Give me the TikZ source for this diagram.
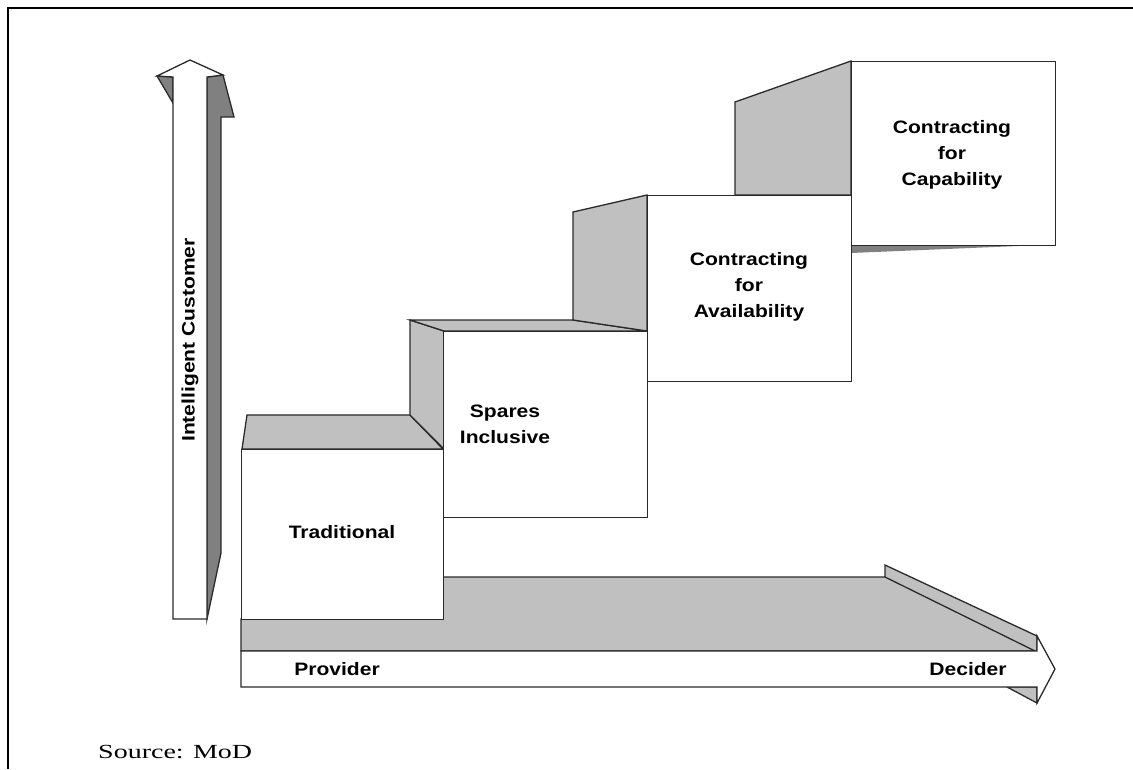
\documentclass[tikz,border=0pt]{standalone}
\usepackage{fontspec}
\setmainfont{Liberation Serif}
\newfontfamily\lblfont{Liberation Sans}[FakeStretch=1.17]
\newfontfamily\srcfont{Liberation Serif}[FakeStretch=1.4]
\definecolor{facegray}{HTML}{C0C0C0}
\definecolor{shadegray}{HTML}{808080}
\definecolor{edge}{HTML}{2A2A2A}
\begin{document}
\begin{tikzpicture}[x=1pt,y=-1pt,
  outline/.style={draw=edge,line width=1.3pt,line join=miter},
  face/.style={outline,fill=facegray},
  shade/.style={outline,fill=shadegray},
  front/.style={outline,fill=white},
  lbl/.style={font=\lblfont\bfseries\fontsize{18}{26}\selectfont,align=center,text=black,inner sep=0pt},
  src/.style={font=\srcfont\fontsize{20}{24}\selectfont,text=black,inner sep=0pt}]
\useasboundingbox (0,0) rectangle (1133,769);

% frame along the top and left edges
\draw[black,line width=2.6pt] (8,769) -- (8,8) -- (1133,8);

% ---- floor plane behind the horizontal arrow ----
\filldraw[face] (241,619) -- (443,619) -- (443,577) -- (885,577) -- (885,565)
  -- (1037,636) -- (1037,651) -- (241,651) -- cycle;
\draw[outline] (885,577) -- (1035,651);
\filldraw[face] (1007,687) -- (1037,687) -- (1037,703) -- cycle;

% ---- side and top faces of the steps ----
\filldraw[face] (242,449) -- (247,415) -- (410,415) -- (443,449) -- cycle;
\filldraw[face] (410,320) -- (444,331) -- (444,449) -- (410,415) -- cycle;
\filldraw[face] (410,320) -- (573,320) -- (647,331) -- (444,331) -- cycle;
\filldraw[face] (573,212) -- (647,195) -- (647,331) -- (573,320) -- cycle;
\filldraw[face] (735,102) -- (851,61) -- (851,195) -- (735,195) -- cycle;
\fill[shadegray] (851,245) -- (1042,245) -- (851,253) -- cycle;

% ---- front faces of the steps ----
\node[front,anchor=north west,minimum width=202pt,minimum height=170pt,inner sep=0pt] (trad) at (241,449) {};
\node[front,anchor=north west,minimum width=204pt,minimum height=186pt,inner sep=0pt] (spares) at (443,331) {};
\node[front,anchor=north west,minimum width=204pt,minimum height=186pt,inner sep=0pt] (avail) at (647,195) {};
\node[front,anchor=north west,minimum width=204pt,minimum height=184pt,inner sep=0pt] (capab) at (851,61) {};

\node[lbl] (tradtxt) at (342,532) {Traditional};
\node[lbl] (sparestxt) at (505,424) {Spares\\Inclusive};
\node[lbl] (availtxt) at (749,287) {Contracting\\for\\Availability};
\node[lbl] (capabtxt) at (952,155) {Contracting\\for\\Capability};

% ---- horizontal arrow ----
\filldraw[front] (241,651) -- (1037,651) -- (1037,636) -- (1055,669) -- (1037,703)
  -- (1037,687) -- (241,687) -- cycle;
\node[lbl] (provider) at (337,669) {Provider};
\node[lbl] (decider) at (968,669) {Decider};

% ---- vertical arrow ----
\filldraw[shade] (207,77) -- (223,75) -- (234,117) -- (221,117) -- (221,553) -- (207,619) -- cycle;
\filldraw[shade] (157,76) -- (173,77) -- (173,103) -- cycle;
\filldraw[front] (173,619) -- (173,77) -- (157,76) -- (190,60) -- (223,75)
  -- (207,77) -- (207,619) -- cycle;
\node[lbl,rotate=90] (customer) at (190,340) {Intelligent Customer};

% ---- source note ----
\node[src,anchor=west] (source) at (98,752) {Source: MoD};
\end{tikzpicture}
\end{document}
